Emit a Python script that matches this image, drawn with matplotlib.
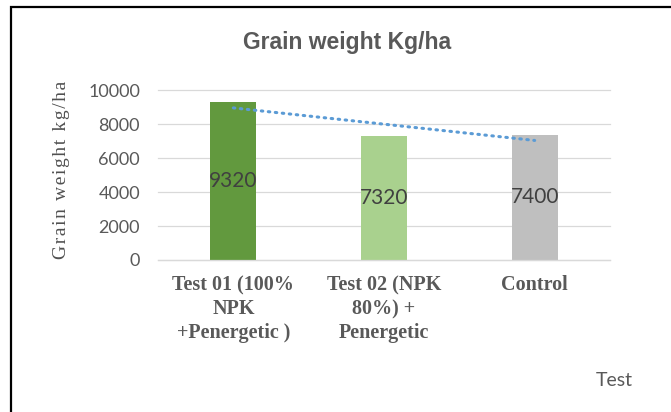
import numpy as np
import matplotlib
matplotlib.use("Agg")
import matplotlib.pyplot as plt
from matplotlib.patches import Rectangle

# data
categories = ["Test 01 (100%\nNPK\n+Penergetic )", "Test 02 (NPK\n80%) +\nPenergetic", "Control"]
grain_weight = [9320, 7320, 7400]
bar_colors = ["#62993e", "#a9d18e", "#bfbfbf"]
y_ticks = [0, 2000, 4000, 6000, 8000, 10000]

fig = plt.figure(figsize=(6.71, 4.12), dpi=100)
ax = fig.add_axes([158 / 671, 1 - 260 / 412, 452 / 671, 169.5 / 412])

x = np.arange(len(categories))
bars = ax.bar(x, grain_weight, width=0.305, color=bar_colors, zorder=2)

# linear trendline like Excel
k, b = np.polyfit(x, grain_weight, 1)
ax.plot(x[[0, -1]], k * x[[0, -1]] + b, color="#5b9bd5", lw=2.2,
        linestyle=(0, (0.5, 1.8)), dash_capstyle="round", zorder=3)

for i, v in enumerate(grain_weight):
    ax.text(x[i], v / 2, str(v), ha="center", va="center", fontsize=15,
            family="Lato", color="#404040", zorder=4)

ax.set_xlim(-0.5, 2.5)
ax.set_ylim(0, 10000)
ax.set_yticks(y_ticks)
ax.set_yticklabels([str(t) for t in y_ticks], family="Lato", fontsize=13, color="#595959")
ax.set_xticks(x)
ax.set_xticklabels(categories, family="Liberation Serif", fontweight="bold",
                   fontsize=14.5, color="#595959", linespacing=1.25)
ax.tick_params(length=0)
ax.tick_params(axis="x", pad=11)
ax.tick_params(axis="y", pad=13)
ax.grid(axis="y", color="#d9d9d9", lw=0.9, zorder=0)
for gl in ax.get_ygridlines():
    gl.set_clip_on(False)
for s in ["top", "right", "left"]:
    ax.spines[s].set_visible(False)
ax.spines["bottom"].set_color("#d9d9d9")
ax.spines["bottom"].set_linewidth(0.9)

ylab = "\u200a".join("Grain weight kg/ha")
ax.set_ylabel(ylab, family=["Liberation Serif", "DejaVu Serif"],
              fontsize=14, color="#505050")
ax.yaxis.set_label_coords(-0.195, 0.53)

fig.text(347 / 671, 1 - 43 / 412, "Grain weight Kg/ha", ha="center", va="center",
         family="Liberation Sans", fontweight="bold", fontsize=16.5, color="#595959")
fig.text(614 / 671, 1 - 380 / 412, "Test", ha="center", va="center",
         family="Lato", fontsize=14, color="#595959")

# black frame around the chart (open on right and bottom)
fig.add_artist(Rectangle((11 / 671, -0.1), 1.2, 1 - 7 / 412 + 0.1,
                         transform=fig.transFigure, fill=False,
                         edgecolor="black", lw=1.6))

fig.savefig("out.png", dpi=100)
